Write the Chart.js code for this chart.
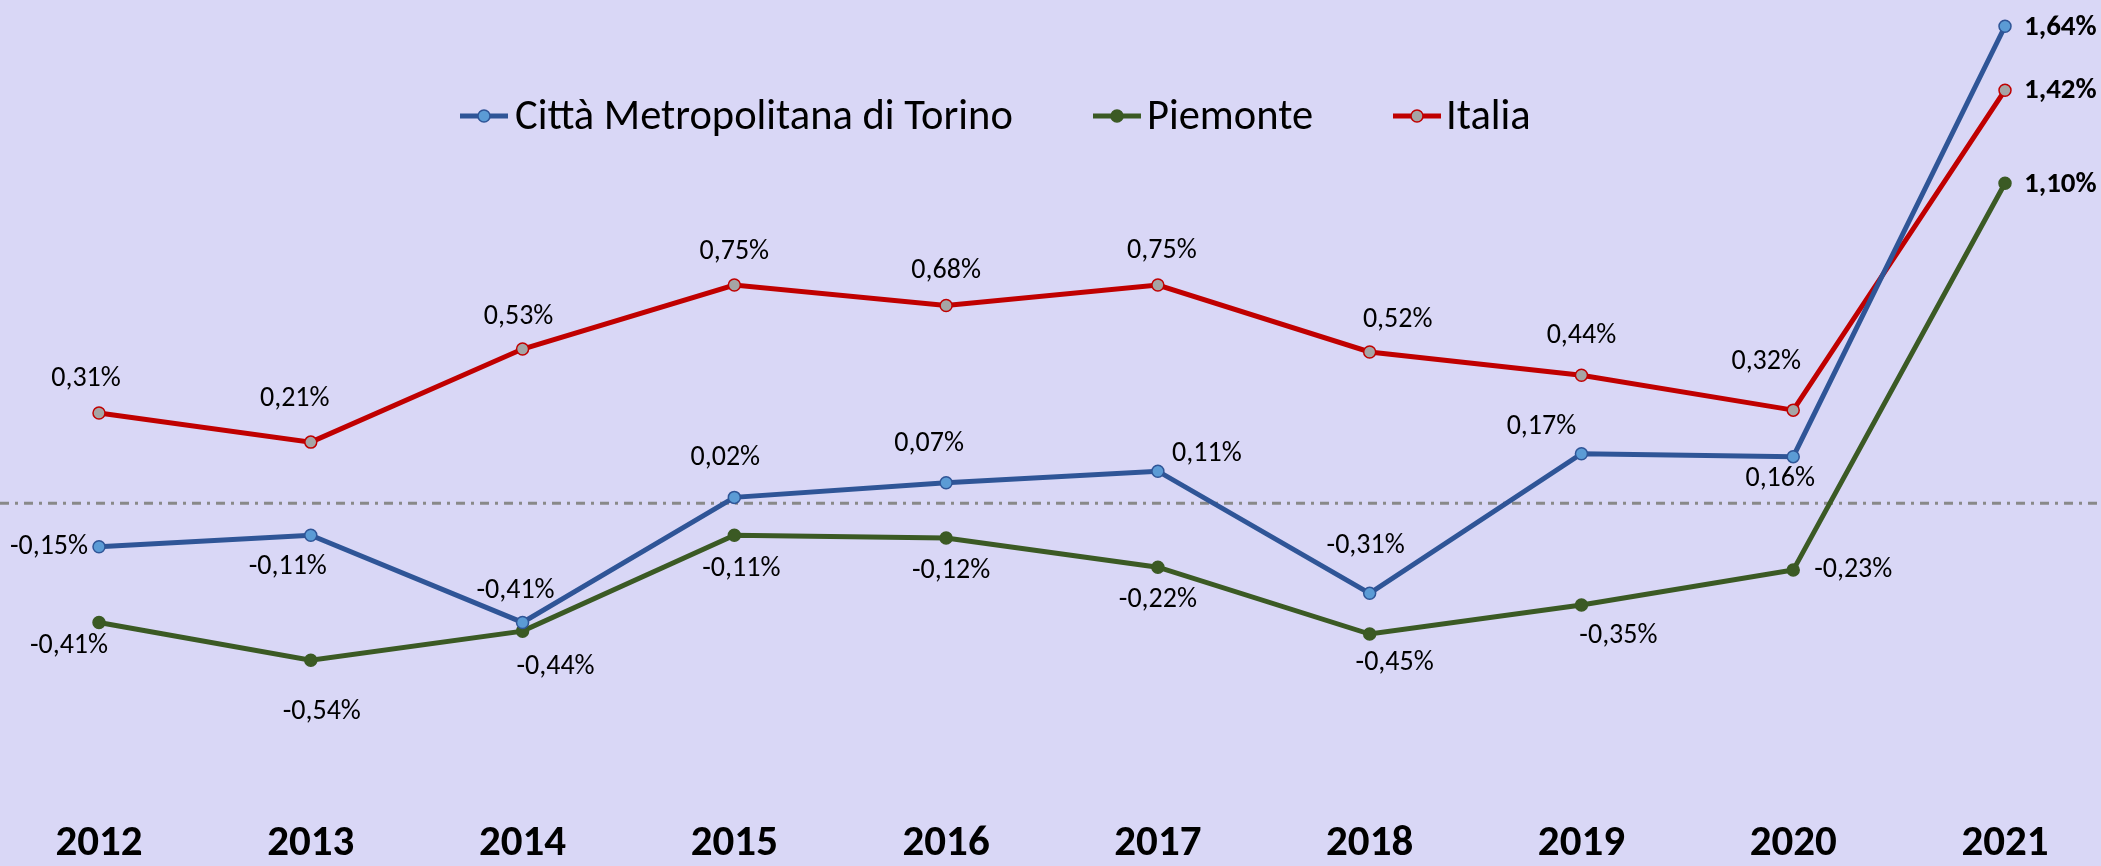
<!DOCTYPE html>
<html>
<head>
<meta charset="utf-8">
<script src="https://cdn.jsdelivr.net/npm/chart.js@4.4.1/dist/chart.umd.min.js"></script>
<style>
  html, body { margin: 0; padding: 0; background: #d9d7f6; }
  canvas { display: block; }
</style>
</head>
<body>
<canvas id="myChart" width="2101" height="866"></canvas>
<script>
// data
const years = ['2012', '2013', '2014', '2015', '2016', '2017', '2018', '2019', '2020', '2021'];
const torino = [-0.15, -0.11, -0.41, 0.02, 0.07, 0.11, -0.31, 0.17, 0.16, 1.64];
const piemonte = [-0.41, -0.54, -0.44, -0.11, -0.12, -0.22, -0.45, -0.35, -0.23, 1.10];
const italia = [0.31, 0.21, 0.53, 0.75, 0.68, 0.75, 0.52, 0.44, 0.32, 1.42];
const names = ['Città Metropolitana di Torino', 'Piemonte', 'Italia'];

// where each value label sits, relative to its point (null = right of point, bold)
const torinoLbl = [[-50, 0], [-23, 32], [-7, -31], [-9, -39], [-17, -39], [49, -17], [-4, -47], [-40, -27], [-13, 22], null];
const piemonteLbl = [[-30, 24], [11, 52], [33, 36], [7, 34], [5, 33], [0, 33], [25, 29], [37, 31], [60, 0], null];
const italiaLbl = [[-13, -34], [-16, -43], [-4, -32], [0, -33], [0, -34], [4, -34], [28, -32], [0, -39], [-27, -48], null];

const FONT = 'Carlito, "Liberation Sans Narrow", sans-serif';

function fmt(v) {
  return v.toFixed(2).replace('.', ',') + '%';
}

const extras = {
  id: 'extras',
  beforeDatasetsDraw(chart) {
    // dash-dot zero line across the whole width
    const ctx = chart.ctx;
    const y = chart.scales.y.getPixelForValue(0);
    ctx.save();
    ctx.strokeStyle = '#898989';
    ctx.lineWidth = 3;
    ctx.setLineDash([9, 6, 3, 6]);
    ctx.beginPath();
    ctx.moveTo(0, y);
    ctx.lineTo(chart.width, y);
    ctx.stroke();
    ctx.restore();
  },
  afterDatasetsDraw(chart) {
    const ctx = chart.ctx;
    const lbls = [torinoLbl, piemonteLbl, italiaLbl];
    ctx.save();
    ctx.fillStyle = '#000';
    ctx.textBaseline = 'middle';
    chart.data.datasets.forEach((ds, di) => {
      const meta = chart.getDatasetMeta(di);
      meta.data.forEach((pt, i) => {
        const off = lbls[di][i];
        if (off) {
          ctx.font = '28px ' + FONT;
          ctx.textAlign = 'center';
          ctx.fillText(fmt(ds.data[i]), pt.x + off[0], pt.y + off[1]);
        } else {
          ctx.font = 'bold 29px ' + FONT;
          ctx.textAlign = 'left';
          ctx.fillText(fmt(ds.data[i]), pt.x + 19, pt.y + 1);
        }
      });
    });

    // legend
    const items = [[460, 515], [1093, 1147], [1393, 1446]];
    const ly = 116;
    chart.data.datasets.forEach((ds, di) => {
      const [x0, tx] = items[di];
      ctx.strokeStyle = ds.borderColor;
      ctx.lineWidth = 5;
      ctx.setLineDash([]);
      ctx.beginPath();
      ctx.moveTo(x0, ly);
      ctx.lineTo(x0 + 48, ly);
      ctx.stroke();
      ctx.beginPath();
      ctx.arc(x0 + 24, ly, 6, 0, Math.PI * 2);
      ctx.fillStyle = ds.pointBackgroundColor;
      ctx.fill();
      ctx.lineWidth = 1.5;
      ctx.strokeStyle = ds.pointBorderColor;
      ctx.stroke();
      ctx.fillStyle = '#000';
      ctx.font = '42.5px ' + FONT;
      ctx.textAlign = 'left';
      ctx.fillText(ds.label, tx, ly + 2);
    });
    ctx.restore();
  }
};

const ctx = document.getElementById('myChart');

const myChart = new Chart(ctx, {
  type: 'line',
  data: {
    labels: years,
    datasets: [
      {
        label: names[0],
        data: torino,
        borderColor: '#2f5597',
        pointBackgroundColor: '#5b9bd5',
        pointBorderColor: '#2f5597',
      },
      {
        label: names[1],
        data: piemonte,
        borderColor: '#3b5a24',
        pointBackgroundColor: '#3b5a24',
        pointBorderColor: '#3b5a24',
      },
      {
        label: names[2],
        data: italia,
        borderColor: '#c00000',
        pointBackgroundColor: '#a5a5a5',
        pointBorderColor: '#c00000',
      }
    ]
  },
  options: {
    responsive: false,
    animation: false,
    clip: false,
    layout: { autoPadding: false, padding: { left: 99, right: 96, top: 3, bottom: 0 } },
    elements: {
      line: { borderWidth: 5, tension: 0 },
      point: { radius: 6, borderWidth: 1.5 }
    },
    plugins: {
      legend: { display: false },
      tooltip: { enabled: false }
    },
    scales: {
      x: {
        offset: false,
        grid: { display: false, drawTicks: false },
        border: { display: false },
        ticks: {
          color: '#000',
          padding: 24,
          font: { family: FONT, size: 43, weight: 'bold' }
        },
        afterFit: (s) => { s.height = 72; }
      },
      y: {
        display: false,
        min: -1.0,
        max: 1.72
      }
    }
  },
  plugins: [extras]
});
</script>
</body>
</html>
